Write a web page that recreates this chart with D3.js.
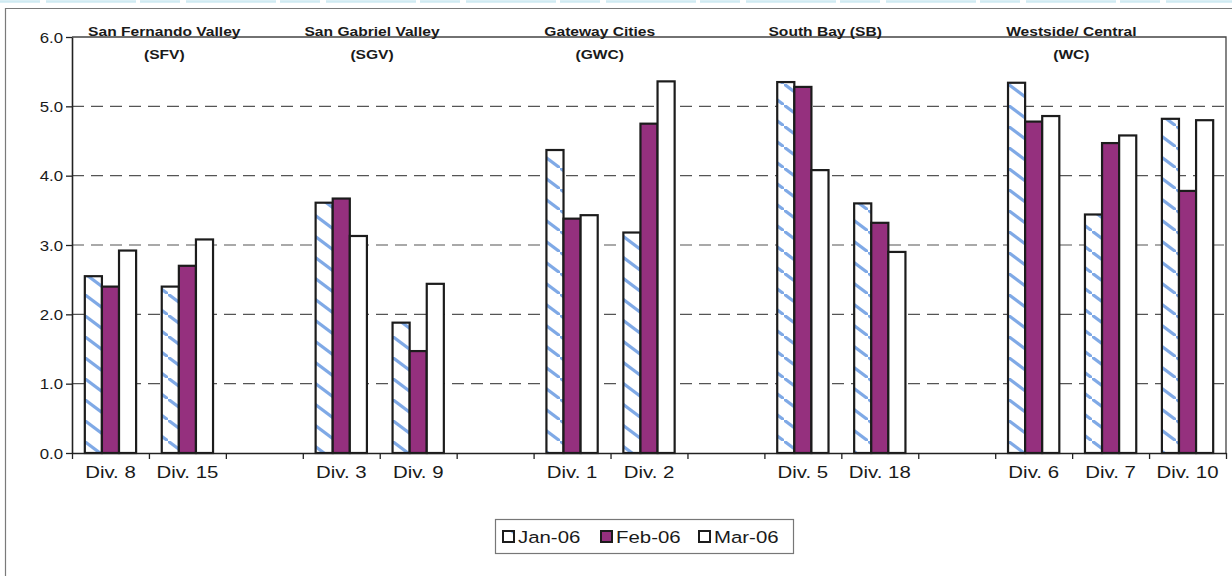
<!DOCTYPE html>
<html>
<head>
<meta charset="utf-8">
<script src="https://cdn.jsdelivr.net/npm/d3@7"></script>
<style>
  html, body { margin: 0; padding: 0; background: #fff; }
  svg { display: block; }
  text { font-family: Arial, "Liberation Sans", sans-serif; fill: #1a1a1a; }
</style>
</head>
<body>
<svg id="chart" width="1232" height="576"></svg>
<script>
// ---- data ----
const categories = ["Div. 8", "Div. 15", "", "Div. 3", "Div. 9", "", "Div. 1", "Div. 2", "",
                    "Div. 5", "Div. 18", "", "Div. 6", "Div. 7", "Div. 10"];
const jan06 = [2.55, 2.40, null, 3.61, 1.88, null, 4.37, 3.18, null, 5.35, 3.60, null, 5.34, 3.44, 4.82];
const feb06 = [2.40, 2.70, null, 3.67, 1.47, null, 3.38, 4.75, null, 5.28, 3.32, null, 4.78, 4.47, 3.78];
const mar06 = [2.92, 3.08, null, 3.13, 2.44, null, 3.43, 5.36, null, 4.08, 2.90, null, 4.86, 4.58, 4.80];
const seriesNames = ["Jan-06", "Feb-06", "Mar-06"];
const yTicks = [0, 1, 2, 3, 4, 5, 6];
const regionNames = ["San Fernando Valley", "San Gabriel Valley", "Gateway Cities", "South Bay (SB)", "Westside/ Central"];
const regionCodes = ["(SFV)", "(SGV)", "(GWC)", "", "(WC)"];

// ---- layout ----
const W = 1232, H = 576;
const plot = { left: 72, right: 1226, top: 37, bottom: 453 };
const SX = 1.2;                          // horizontal text stretch
const regionAnchor = [1.2, 3.9, 6.86, 9.79, 12.99];   // label centres, in slot units
const seriesFill = ["url(#hatchJan)", "#95307e", "#ffffff"];

const svg = d3.select("#chart");
const defs = svg.append("defs");

// wide downward-diagonal hatch for the first series
const pat = defs.append("pattern")
  .attr("id", "hatchJan").attr("patternUnits", "userSpaceOnUse")
  .attr("width", 28).attr("height", 21);
pat.append("rect").attr("width", 28).attr("height", 21).attr("fill", "#fff");
pat.append("path").attr("d", "M-28,-21 L56,42")
  .attr("stroke", "#7fa9e6").attr("stroke-width", 3.2).attr("fill", "none");

// stretched text helper
function label(g, x, y, str, size, anchor, weight) {
  return g.append("text")
    .attr("transform", `translate(${x},${y}) scale(${SX},1)`)
    .attr("text-anchor", anchor || "middle")
    .attr("font-size", size)
    .attr("font-weight", weight || "normal")
    .text(str);
}

// faint scan band and the outer frame
svg.append("line").attr("x1", 0).attr("x2", W).attr("y1", 1.5).attr("y2", 1.5)
  .attr("stroke", "#cfeaf2").attr("stroke-width", 2.5).attr("stroke-dasharray", "40,6,90,4");
svg.append("path").attr("d", `M5.5,${H} V8.5 H${W}`)
  .attr("fill", "none").attr("stroke", "#7a7a7a").attr("stroke-width", 1.2);

// ---- scales ----
const y = d3.scaleLinear().domain([0, 6]).range([plot.bottom, plot.top]);
const x = d3.scaleBand().domain(d3.range(categories.length)).range([plot.left, plot.right]).padding(0);
const slot = d3.scaleLinear().domain([0, categories.length]).range([plot.left, plot.right]);
const groupW = x.bandwidth() * 3 / 4.5;          // 150% gap width
const x1 = d3.scaleBand().domain(seriesNames).range([0, groupW]).padding(0);
const groupOffset = (x.bandwidth() - groupW) / 2;

// ---- grid ----
const grid = svg.append("g");
grid.selectAll("line.grid").data(yTicks.filter(v => v > 0 && v < 6)).join("line")
  .attr("x1", plot.left).attr("x2", plot.right)
  .attr("y1", d => y(d)).attr("y2", d => y(d))
  .attr("stroke", "#555").attr("stroke-width", 1.2).attr("stroke-dasharray", "12,7");
// plot frame top and right
grid.append("path")
  .attr("d", `M${plot.left},${y(6)} H${plot.right} V${y(0)}`)
  .attr("fill", "none").attr("stroke", "#444").attr("stroke-width", 1.3);

// ---- region labels ----
const rg = svg.append("g");
regionNames.forEach((n, i) => {
  const cx = slot(regionAnchor[i]);
  label(rg, cx, 36, n, 13, "middle", "bold");
  if (regionCodes[i]) label(rg, cx, 59, regionCodes[i], 13, "middle", "bold");
});

// ---- bars ----
const series = [jan06, feb06, mar06];
const barsG = svg.append("g");
series.forEach((vals, s) => {
  barsG.append("g").selectAll("rect")
    .data(vals.map((v, i) => ({ v, i })).filter(d => d.v != null))
    .join("rect")
    .attr("x", d => x(d.i) + groupOffset + x1(seriesNames[s]))
    .attr("width", x1.bandwidth())
    .attr("y", d => y(d.v))
    .attr("height", d => y(0) - y(d.v))
    .attr("fill", seriesFill[s])
    .attr("stroke", "#1c1c1c").attr("stroke-width", 2.2);
});

// ---- axes ----
const yAxis = svg.append("g").attr("transform", `translate(${plot.left},0)`)
  .call(d3.axisLeft(y).tickValues(yTicks).tickFormat(d3.format(".1f")).tickSize(6).tickSizeOuter(0));
yAxis.select(".domain").attr("stroke", "#222").attr("stroke-width", 1.6);
yAxis.selectAll(".tick line").attr("stroke", "#222").attr("stroke-width", 1.3);
yAxis.selectAll(".tick text")
  .attr("font-size", 14).attr("fill", "#1a1a1a")
  .attr("font-family", 'Arial, "Liberation Sans", sans-serif')
  .attr("x", null).attr("dy", null)
  .attr("transform", `translate(-9,5) scale(${SX},1)`);

const xAxis = svg.append("g").attr("transform", `translate(0,${plot.bottom})`)
  .call(d3.axisBottom(slot).tickValues(d3.range(categories.length + 1)).tickSize(6).tickSizeOuter(0).tickFormat(""));
xAxis.select(".domain").attr("stroke", "#222").attr("stroke-width", 1.6);
xAxis.selectAll(".tick line").attr("stroke", "#222").attr("stroke-width", 1.3);

const xl = svg.append("g");
categories.forEach((c, i) => {
  if (c) label(xl, x(i) + x.bandwidth() / 2, 478, c, 17, "middle");
});

// ---- legend ----
const lg = svg.append("g");
lg.append("rect").attr("x", 495.5).attr("y", 519.5).attr("width", 298).attr("height", 34)
  .attr("fill", "#fff").attr("stroke", "#777").attr("stroke-width", 1.2);
seriesNames.forEach((n, s) => {
  const lx = 503 + s * 98;
  lg.append("rect").attr("x", lx).attr("y", 531).attr("width", 11).attr("height", 11)
    .attr("fill", seriesFill[s]).attr("stroke", "#1c1c1c").attr("stroke-width", 2);
  label(lg, lx + 15, 543, n, 17, "start");
});
</script>
</body>
</html>
